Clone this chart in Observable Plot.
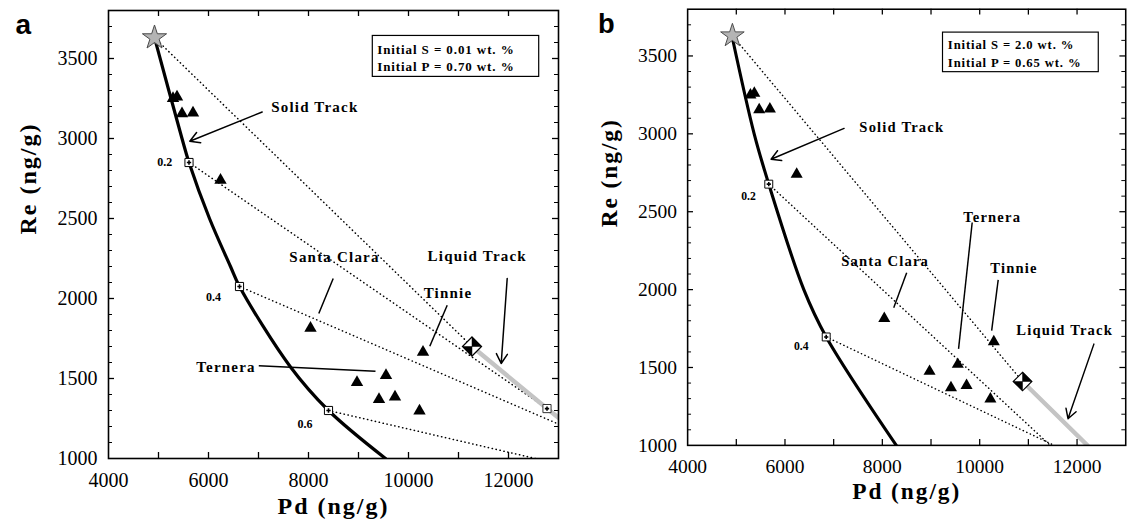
<!DOCTYPE html>
<html><head><meta charset="utf-8">
<script src="https://cdn.jsdelivr.net/npm/d3@7"></script>
<script src="https://cdn.jsdelivr.net/npm/@observablehq/plot@0.6"></script>
<style>
html,body{margin:0;padding:0;background:#fff;overflow:hidden;width:1134px;height:528px;}
#wrap{position:relative;width:1134px;height:528px;overflow:hidden;background:#fff;}
.panel{position:absolute;}
#wrap svg{font-family:"Liberation Serif","Times New Roman",serif;}
</style></head><body>
<div id="wrap">
<div id="pa" class="panel" style="left:0px;top:0px"></div>
<div id="pb" class="panel" style="left:582px;top:-1px"></div>
</div>
<script>
// ---------- shared measured samples (triangles) ----------
const samplePd = [5290, 5370, 5470, 5690, 6240, 8040, 10290, 9550, 8970, 9410, 9730, 10220];
const sampleRe = [3250, 3260, 3155, 3160, 2740, 1815, 1665, 1520, 1475, 1370, 1385, 1298];
const initialPd = [4920];
const initialRe = [3630];

// ---------- axis ticks ----------
const xTickLabels = [4000, 6000, 8000, 10000, 12000];
const xTickMarks = [5000, 6000, 7000, 8000, 9000, 10000, 11000, 12000];
const yTickLabels = [1000, 1500, 2000, 2500, 3000, 3500];
const yMajorMarks = [1500, 2000, 2500, 3000, 3500];
const yMinorMarks = [1100, 1200, 1300, 1400, 1600, 1700, 1800, 1900, 2100, 2200, 2300, 2400,
                     2600, 2700, 2800, 2900, 3100, 3200, 3300, 3400, 3600, 3700];
const xTitle = "Pd (ng/g)";
const yTitle = "Re (ng/g)";

// ---------- panel a ----------
const panelLabelA = "a";
const solidAPd = [4920, 5470, 5610, 6020, 6440, 6620, 7640, 8400, 9540];
const solidARe = [3630, 3000, 2850, 2500, 2200, 2075, 1572, 1300, 1000];
const fracLabelsA = ["0.2", "0.4", "0.6"];
const fracAPd = [5610, 6620, 8400];
const fracARe = [2850, 2075, 1300];
const fracLabelAPd = [5124, 6098, 7930];
const fracLabelARe = [2852, 2010, 1212];
const tieEndAPd = [12770, 13000, 12540];
const tieEndARe = [1312, 1215, 1000];
const liquidAPd = [11270, 12770, 13000];
const liquidARe = [1700, 1312, 1255];
const liquidBoxAPd = [12770];
const liquidBoxARe = [1312];
const diamondAPd = [11270];
const diamondARe = [1700];
const infoA = ["Initial S = 0.01 wt. %", "Initial P = 0.70 wt. %"];
const infoBoxAPd = [9286, 12614];
const infoBoxARe = [3385, 3641];
const infoTextAPd = 9374;
const infoTextARe = [3531, 3422];
const annotNamesA = ["Solid Track", "Santa Clara", "Ternera", "Tinnie", "Liquid Track"];
const annotAPd = [8126, 8520, 6350, 10790, 11374];
const annotARe = [3197, 2258, 1572, 2031, 2264];
const leaderAPd1 = [8494, 7006, 10774];
const leaderARe1 = [2125, 1579, 1958];
const leaderAPd2 = [8206, 9340, 10426];
const leaderARe2 = [1906, 1546, 1702];
const arrowAPd1 = [7074, 11974];
const arrowARe1 = [3166, 2125];
const arrowAPd2 = [5626, 11854];
const arrowARe2 = [2983, 1594];

// ---------- panel b ----------
const panelLabelB = "b";
const solidBPd = [4913, 5367, 5667, 6387, 6847, 8287];
const solidBRe = [3625, 3000, 2677, 2000, 1696, 1000];
const fracLabelsB = ["0.2", "0.4"];
const fracBPd = [5667, 6847];
const fracBRe = [2677, 1696];
const fracLabelBPd = [5250, 6334];
const fracLabelBRe = [2602, 1639];
const tieEndBPd = [11450, 11530];
const tieEndBRe = [1000, 1000];
const liquidBPd = [10880, 12213];
const liquidBRe = [1410, 1000];
const liquidBoxBPd = [];
const liquidBoxBRe = [];
const diamondBPd = [10880];
const diamondBRe = [1410];
const infoB = ["Initial S = 2.0 wt. %", "Initial P = 0.65 wt. %"];
const infoBoxBPd = [9246, 12446];
const infoBoxBRe = [3396, 3650];
const infoTextBPd = 9346;
const infoTextBRe = [3546, 3431];
const annotNamesB = ["Solid Track", "Santa Clara", "Ternera", "Tinnie", "Liquid Track"];
const annotBPd = [8400, 8056, 10256, 10704, 11746];
const annotBRe = [3039, 2181, 2462, 2139, 1739];
const leaderBPd1 = [8500, 9846, 10380];
const leaderBRe1 = [2108, 2431, 2062];
const leaderBPd2 = [8234, 9566, 10246];
const leaderBRe2 = [1883, 1619, 1737];
const arrowBPd1 = [7214, 12346];
const arrowBRe1 = [3035, 1650];
const arrowBPd2 = [5714, 11814];
const arrowBRe2 = [2837, 1171];

// custom symbol: half-filled diamond (two opposite quadrants)
const diamondHalf = {
  draw(ctx, size) {
    const r = Math.sqrt(size) * 0.62625;
    ctx.moveTo(0, 0); ctx.lineTo(0, -r); ctx.lineTo(r, 0); ctx.closePath();
    ctx.moveTo(0, 0); ctx.lineTo(0, r); ctx.lineTo(-r, 0); ctx.closePath();
  }
};

const zip2 = (xs, ys) => xs.map((x, i) => ({x, y: ys[i]}));
const FONT = "'Liberation Serif','Times New Roman',serif";

function build(p) {
  const W = 567, H = 528, mL = 108, mR = 9, mT = 10, mB = 70;
  const pw = W - mL - mR, ph = H - mT - mB;
  const samples = zip2(samplePd, sampleRe);
  const star = zip2(initialPd, initialRe);
  const solid = zip2(p.solidPd, p.solidRe);
  const frac = p.fracPd.map((x, i) => ({x, y: p.fracRe[i]}));
  const fracLab = p.fracLabels.map((t, i) => ({t, x: p.fracLabelPd[i], y: p.fracLabelRe[i]}));
  const ties = [{x1: initialPd[0], y1: initialRe[0], x2: p.diamondPd[0], y2: p.diamondRe[0]}]
    .concat(p.fracPd.map((x, i) => ({x1: x, y1: p.fracRe[i], x2: p.tieEndPd[i], y2: p.tieEndRe[i]})));
  const liquid = zip2(p.liquidPd, p.liquidRe);
  const liqBox = zip2(p.liquidBoxPd, p.liquidBoxRe);
  const diamond = zip2(p.diamondPd, p.diamondRe);
  const annots = p.annotNames.map((t, i) => ({t, x: p.annotPd[i], y: p.annotRe[i]}));
  const leaders = p.leaderPd1.map((x, i) => ({x1: x, y1: p.leaderRe1[i], x2: p.leaderPd2[i], y2: p.leaderRe2[i]}));
  const arrows = p.arrowPd1.map((x, i) => ({x1: x, y1: p.arrowRe1[i], x2: p.arrowPd2[i], y2: p.arrowRe2[i]}));
  const info = p.info.map((t, i) => ({t, x: p.infoTextPd, y: p.infoTextRe[i]}));
  const infoBox = [{x1: p.infoBoxPd[0], x2: p.infoBoxPd[1], y1: p.infoBoxRe[0], y2: p.infoBoxRe[1]}];

  const plot = Plot.plot({
    width: W, height: H,
    marginLeft: mL, marginRight: mR, marginTop: mT, marginBottom: mB,
    x: {domain: [4000, 13000]},
    y: {domain: [1000, 3800]},
    style: "font-family:'Liberation Serif','Times New Roman',serif;font-size:20px;background:white;color:black;overflow:visible;",
    marks: [
      Plot.link(ties, {x1: "x1", y1: "y1", x2: "x2", y2: "y2", stroke: "black", strokeWidth: 1.5,
        strokeDasharray: "0.3,3.7", strokeLinecap: "round", clip: true}),
      Plot.line(liquid, {x: "x", y: "y", stroke: "#c4c4c4", strokeWidth: 4.5, clip: true}),
      Plot.line(solid, {x: "x", y: "y", stroke: "black", strokeWidth: 3.2, curve: "catmull-rom", clip: true}),
      Plot.tickX(xTickMarks, {x: d => d, insetTop: ph - 6, stroke: "black", strokeWidth: 1.3}),
      Plot.tickX(xTickMarks, {x: d => d, insetBottom: ph - 6, stroke: "black", strokeWidth: 1.3}),
      Plot.tickY(yMajorMarks, {y: d => d, insetRight: pw - 6, stroke: "black", strokeWidth: 1.3}),
      Plot.tickY(yMinorMarks, {y: d => d, insetRight: pw - 4, stroke: "black", strokeWidth: 1}),
      Plot.tickY(yMajorMarks, {y: d => d, insetLeft: pw - 6, stroke: "black", strokeWidth: 1.3}),
      Plot.tickY(yMinorMarks, {y: d => d, insetLeft: pw - 4, stroke: "black", strokeWidth: 1}),
      Plot.axisX(xTickLabels, {tickSize: 0, tickPadding: 14, tickFormat: "d", fontSize: 20, fontFamily: FONT, label: null}),
      Plot.axisY(yTickLabels, {tickSize: 0, tickPadding: 11, tickFormat: "d", fontSize: 20, fontFamily: FONT, label: null}),
      Plot.frame({stroke: "black", strokeWidth: 1.6}),
      Plot.text([xTitle], {frameAnchor: "bottom", dy: 55, text: d => d, fontSize: 24, fontWeight: "bold", fontFamily: FONT}),
      Plot.text([yTitle], {frameAnchor: "left", dx: -80, rotate: -90, text: d => d, fontSize: 24, fontWeight: "bold", fontFamily: FONT}),
      Plot.text([p.panelLabel], {frameAnchor: "top-left", dx: p.labelDx, dy: p.labelDy, text: d => d, textAnchor: "start", lineAnchor: "bottom",
        fontFamily: "'Liberation Sans',Arial,sans-serif", fontWeight: "bold", fontSize: 28}),
      Plot.link(leaders, {x1: "x1", y1: "y1", x2: "x2", y2: "y2", stroke: "black", strokeWidth: 1.5}),
      Plot.arrow(arrows, {x1: "x1", y1: "y1", x2: "x2", y2: "y2", stroke: "black", strokeWidth: 1.5, headLength: 11, bend: 0}),
      Plot.text(annots, {x: "x", y: "y", text: "t", fontSize: 15, fontWeight: "bold", fontFamily: FONT}),
      Plot.text(fracLab, {x: "x", y: "y", text: "t", fontSize: 12, fontWeight: "bold", fontFamily: FONT}),
      Plot.dot(samples, {x: "x", y: "y", symbol: "triangle", r: 4.6, fill: "black"}),
      Plot.dot(star, {x: "x", y: "y", symbol: "star", r: 7.6, fill: "#b4b4b4", stroke: "#4a4a4a", strokeWidth: 1}),
      Plot.dot(frac, {x: "x", y: "y", symbol: "square", r: 4.6, fill: "white", stroke: "black", strokeWidth: 1}),
      Plot.dot(frac, {x: "x", y: "y", symbol: "plus", r: 1.5, stroke: "black", strokeWidth: 1.6}),
      Plot.dot(liqBox, {x: "x", y: "y", symbol: "square", r: 4.6, fill: "white", stroke: "#333", strokeWidth: 1}),
      Plot.dot(liqBox, {x: "x", y: "y", symbol: "plus", r: 1.5, stroke: "black", strokeWidth: 1.6}),
      Plot.dot(diamond, {x: "x", y: "y", symbol: "diamond2", r: 8.6, fill: "white", stroke: "black", strokeWidth: 1.2}),
      Plot.dot(diamond, {x: "x", y: "y", symbol: diamondHalf, r: 8.6, fill: "black", stroke: "black", strokeWidth: 0.5}),
      Plot.rect(infoBox, {x1: "x1", x2: "x2", y1: "y1", y2: "y2", fill: "white", stroke: "black", strokeWidth: 1.2}),
      Plot.text(info, {x: "x", y: "y", text: "t", textAnchor: "start", lineAnchor: "bottom", fontSize: 13, fontWeight: "bold", fontFamily: FONT})
    ]
  });
  const s = d3.select(plot);
  s.selectAll("text").each(function() {
    const t = this.textContent;
    if (p.annotNames.includes(t)) this.setAttribute("letter-spacing", "1.2px");
    else if (p.info.includes(t)) this.setAttribute("letter-spacing", "0.9px");
    else if (t === xTitle || t === yTitle) this.setAttribute("letter-spacing", "2px");
  });
  return plot;
}

document.getElementById("pa").appendChild(build({
  panelLabel: panelLabelA, labelDx: -93, labelDy: 23,
  solidPd: solidAPd, solidRe: solidARe,
  fracLabels: fracLabelsA, fracPd: fracAPd, fracRe: fracARe, fracLabelPd: fracLabelAPd, fracLabelRe: fracLabelARe,
  tieEndPd: tieEndAPd, tieEndRe: tieEndARe,
  liquidPd: liquidAPd, liquidRe: liquidARe, liquidBoxPd: liquidBoxAPd, liquidBoxRe: liquidBoxARe,
  diamondPd: diamondAPd, diamondRe: diamondARe,
  info: infoA, infoBoxPd: infoBoxAPd, infoBoxRe: infoBoxARe, infoTextPd: infoTextAPd, infoTextRe: infoTextARe,
  annotNames: annotNamesA, annotPd: annotAPd, annotRe: annotARe,
  leaderPd1: leaderAPd1, leaderRe1: leaderARe1, leaderPd2: leaderAPd2, leaderRe2: leaderARe2,
  arrowPd1: arrowAPd1, arrowRe1: arrowARe1, arrowPd2: arrowAPd2, arrowRe2: arrowARe2
}));
document.getElementById("pb").appendChild(build({
  panelLabel: panelLabelB, labelDx: -92, labelDy: 24,
  solidPd: solidBPd, solidRe: solidBRe,
  fracLabels: fracLabelsB, fracPd: fracBPd, fracRe: fracBRe, fracLabelPd: fracLabelBPd, fracLabelRe: fracLabelBRe,
  tieEndPd: tieEndBPd, tieEndRe: tieEndBRe,
  liquidPd: liquidBPd, liquidRe: liquidBRe, liquidBoxPd: liquidBoxBPd, liquidBoxRe: liquidBoxBRe,
  diamondPd: diamondBPd, diamondRe: diamondBRe,
  info: infoB, infoBoxPd: infoBoxBPd, infoBoxRe: infoBoxBRe, infoTextPd: infoTextBPd, infoTextRe: infoTextBRe,
  annotNames: annotNamesB, annotPd: annotBPd, annotRe: annotBRe,
  leaderPd1: leaderBPd1, leaderRe1: leaderBRe1, leaderPd2: leaderBPd2, leaderRe2: leaderBRe2,
  arrowPd1: arrowBPd1, arrowRe1: arrowBRe1, arrowPd2: arrowBPd2, arrowRe2: arrowBRe2
}));
</script>
</body></html>
